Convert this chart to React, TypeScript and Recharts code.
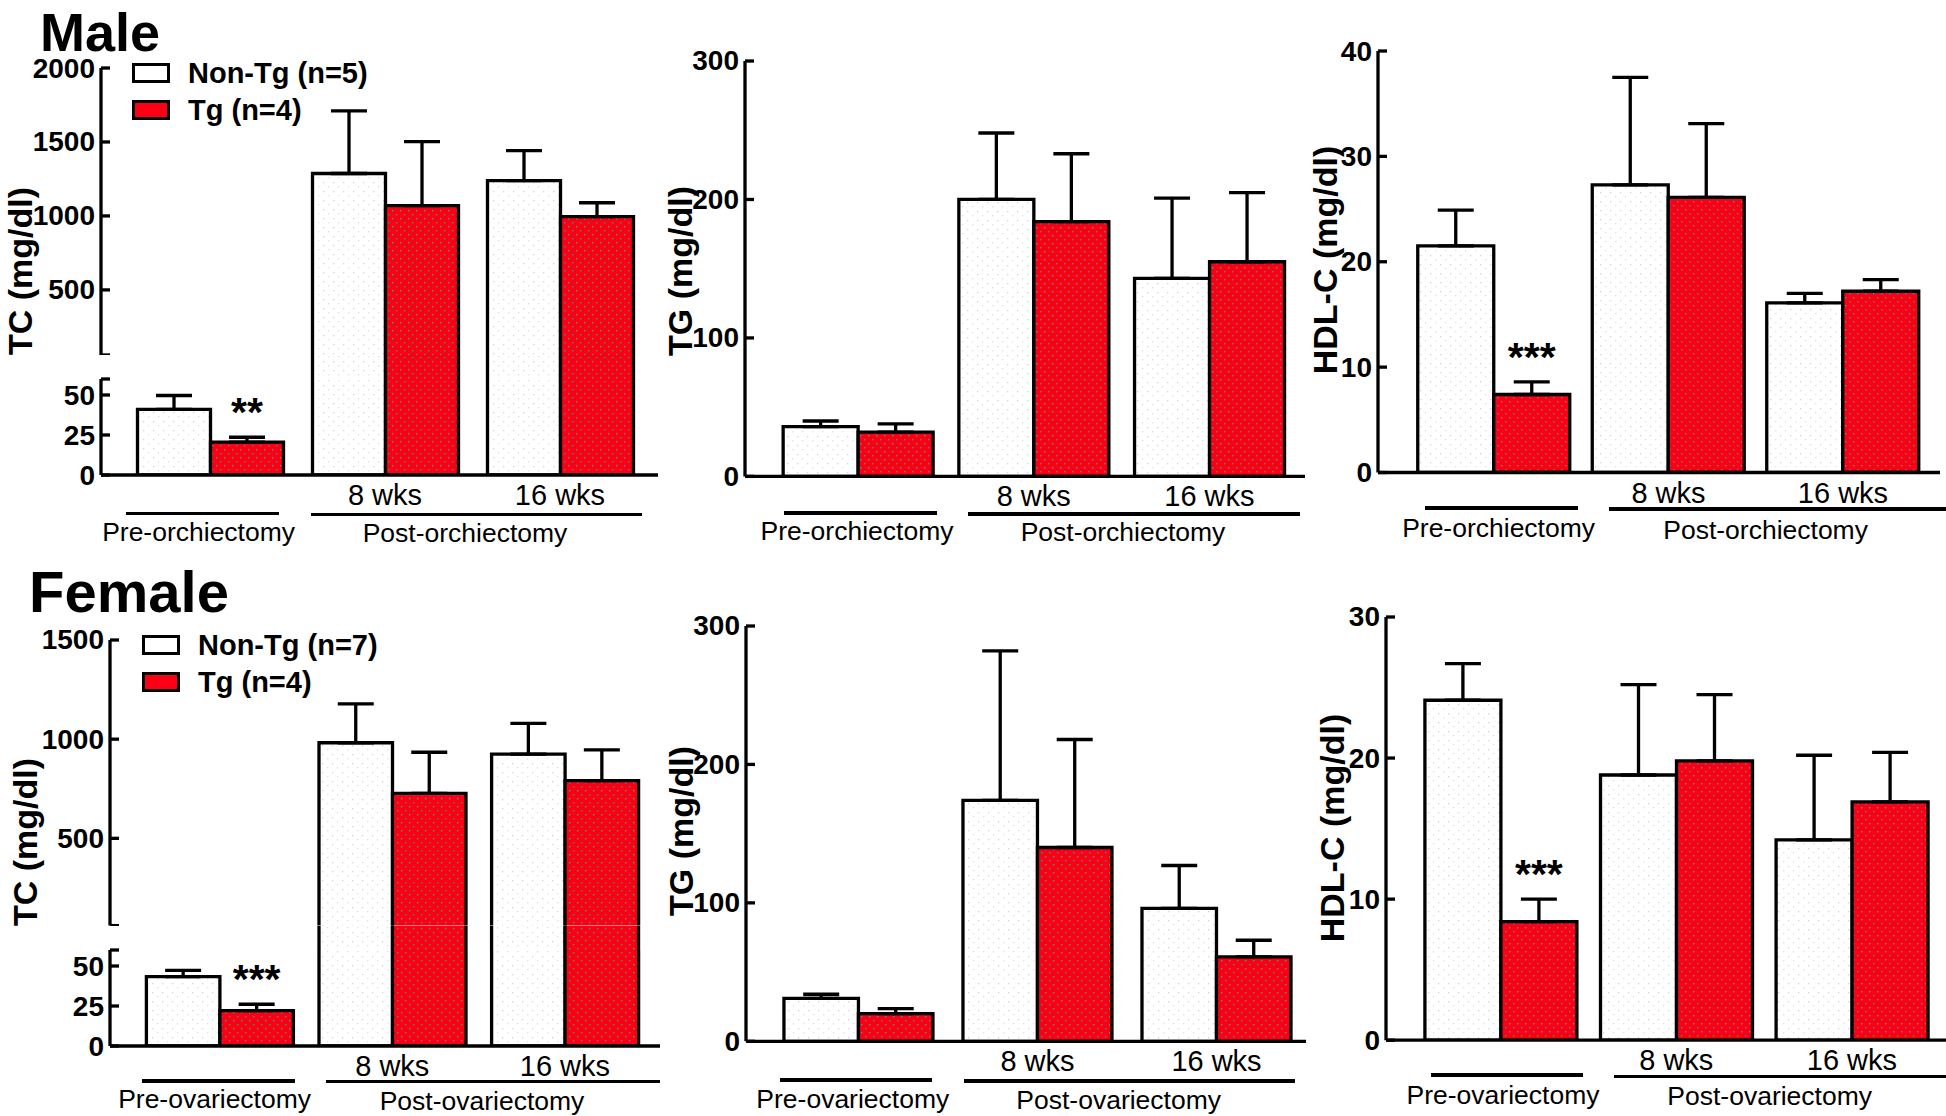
import React from 'react';
import { BarChart, Bar, XAxis, YAxis, ErrorBar, LabelList } from 'recharts';

const FONT = '"Liberation Sans", Arial, Helvetica, sans-serif';

// categories
const groups = ['Pre', '8 wks', '16 wks'];
const groupTicks = ['', '8 wks', '16 wks'];

// legends
const maleLegend = ['Non-Tg (n=5)', 'Tg (n=4)'];
const femaleLegend = ['Non-Tg (n=7)', 'Tg (n=4)'];

// Male TC (mg/dl)
const maleTcNonTg = [41, 1287, 1239];
const maleTcNonTgErr = [8.7, 423, 203];
const maleTcTg = [20.6, 1070, 995];
const maleTcTgErr = [3, 433, 94];
const maleTcSig = ['**', '', ''];

// Male TG
const maleTgNonTg = [36, 200, 143];
const maleTgNonTgErr = [4, 48, 58];
const maleTgTg = [32, 184, 155];
const maleTgTgErr = [6, 49, 50];

// Male HDL-C
const maleHdlNonTg = [21.5, 27.3, 16.1];
const maleHdlNonTgErr = [3.4, 10.2, 0.9];
const maleHdlTg = [7.4, 26.1, 17.2];
const maleHdlTgErr = [1.2, 7.0, 1.1];
const maleHdlSig = ['***', '', ''];

// Female TC
const femaleTcNonTg = [43.3, 982, 925];
const femaleTcNonTgErr = [4, 196, 155];
const femaleTcTg = [22.1, 727, 791];
const femaleTcTgErr = [4, 207, 155];
const femaleTcSig = ['***', '', ''];

// Female TG
const femaleTgNonTg = [31, 174, 96];
const femaleTgNonTgErr = [3, 108, 31];
const femaleTgTg = [20, 140, 61];
const femaleTgTgErr = [3.6, 78, 12];

// Female HDL-C
const femaleHdlNonTg = [24.1, 18.8, 14.2];
const femaleHdlNonTgErr = [2.6, 6.4, 6.0];
const femaleHdlTg = [8.4, 19.8, 16.9];
const femaleHdlTgErr = [1.6, 4.7, 3.5];
const femaleHdlSig = ['***', '', ''];

const noSig = ['', '', ''];

type Row = {
  group: string;
  nonTg: [number, number];
  tg: [number, number];
  nonTgErr: [number, number] | null;
  tgErr: [number, number] | null;
  sig: string;
};

function buildRows(a: number[], aErr: number[], b: number[], bErr: number[], sig: string[], lo = -Infinity, hi = Infinity): Row[] {
  const inRange = (v: number) => v > lo && v <= hi;
  return groups.map((g, i) => ({
    group: g,
    nonTg: [0, a[i]],
    tg: [0, b[i]],
    nonTgErr: inRange(a[i]) ? [0, aErr[i]] : null,
    tgErr: inRange(b[i]) ? [0, bErr[i]] : null,
    sig: sig[i],
  }));
}

const YW = 90;
const MT = 24;
const MR = 12;
const XH = 44;
const LW = 3.3;

type ChartProps = {
  id: string;
  rows: Row[];
  axisX: number;
  xEnd: number;
  yTop: number;
  yBottom: number;
  domain: [number, number];
  ticks?: number[];
  unlabeled?: number[];
  showX?: boolean;
  showY?: boolean;
  c0: number;
  period: number;
  barW: number;
  errors?: boolean;
  stars?: boolean;
};

function Chart(p: ChartProps) {
  const showY = p.showY !== false;
  const plotW = p.xEnd - p.axisX;
  const plotH = p.yBottom - p.yTop;
  const padL = Math.max(0, p.c0 - p.period / 2 - p.axisX);
  const padR = Math.max(0, plotW - padL - 3 * p.period);
  const xh = p.showX ? XH : 0;
  const unlabeled = p.unlabeled || [];

  const renderYTick = (t: any) => {
    const v = t.payload.value;
    return (
      <g>
        <line x1={YW} x2={YW + 9} y1={t.y} y2={t.y} stroke="#000" strokeWidth={LW} />
        {!unlabeled.includes(v) && (
          <text x={YW - 6} y={t.y} textAnchor="end" dominantBaseline="central" fontSize={28} fontWeight="bold" fontFamily={FONT} fill="#000">
            {v}
          </text>
        )}
      </g>
    );
  };

  const renderXTick = (t: any) => {
    const idx = groups.indexOf(t.payload.value);
    return (
      <text x={t.x} y={t.y + 20} textAnchor="middle" dominantBaseline="central" fontSize={29} fontFamily={FONT} fill="#000">
        {groupTicks[idx]}
      </text>
    );
  };

  const renderStar = (props: any) => {
    const vb = props.viewBox || props;
    const idx = props.index;
    const row = p.rows[idx];
    if (!row || !row.sig) return null;
    const v = row.tg[1];
    const e = row.tgErr ? row.tgErr[1] : 0;
    const unit = vb.height / v;
    const cy = vb.y - e * unit - 31;
    return (
      <text x={vb.x + vb.width / 2} y={cy + 20} textAnchor="middle" fontSize={41} fontWeight="bold" fontFamily={FONT} fill="#000">
        {row.sig}
      </text>
    );
  };

  return (
    <div style={{ position: 'absolute', left: p.axisX - YW, top: p.yTop - MT }}>
      <BarChart
        width={YW + plotW + MR}
        height={MT + plotH + xh}
        data={p.rows}
        margin={{ top: MT, right: MR, bottom: 0, left: showY ? 0 : YW }}
        barGap={0}
        barSize={p.barW}
      >
        <defs>
          <pattern id={`w-${p.id}`} patternUnits="userSpaceOnUse" width="10" height="9">
            <rect width="10" height="9" fill="#ffffff" />
            <rect x="2" y="3" width="1.3" height="1.3" fill="#d4d4d4" />
            <rect x="7" y="7" width="1.3" height="1.3" fill="#e0e0e0" />
          </pattern>
          <pattern id={`r-${p.id}`} patternUnits="userSpaceOnUse" width="8" height="8">
            <rect width="8" height="8" fill="#fb0014" />
            <rect x="1" y="2" width="1.4" height="1.4" fill="#3f8f88" />
            <rect x="5" y="6" width="1.4" height="1.4" fill="#4a9a92" />
          </pattern>
        </defs>
        <XAxis
          dataKey="group"
          hide={!p.showX}
          height={XH}
          padding={{ left: padL, right: padR }}
          axisLine={{ stroke: '#000', strokeWidth: LW }}
          tickLine={false}
          tickSize={0}
          tickMargin={0}
          interval={0}
          tick={renderXTick}
        />
        <YAxis
          type="number"
          hide={!showY}
          domain={p.domain}
          ticks={p.ticks}
          allowDataOverflow
          width={YW}
          interval={0}
          axisLine={{ stroke: '#000', strokeWidth: LW }}
          tickLine={false}
          tick={renderYTick}
        />
        <Bar dataKey="nonTg" fill={`url(#w-${p.id})`} stroke="#000" strokeWidth={LW} isAnimationActive={false}>
          {p.errors && <ErrorBar dataKey="nonTgErr" width={18} stroke="#000" strokeWidth={LW} direction="y" />}
        </Bar>
        <Bar dataKey="tg" fill={`url(#r-${p.id})`} stroke="#000" strokeWidth={LW} isAnimationActive={false}>
          {p.errors && <ErrorBar dataKey="tgErr" width={18} stroke="#000" strokeWidth={LW} direction="y" />}
          {p.stars && <LabelList dataKey="sig" content={renderStar} />}
        </Bar>
      </BarChart>
    </div>
  );
}

function YTitle({ text, x, y }: { text: string; x: number; y: number }) {
  return (
    <div
      style={{
        position: 'absolute', left: x, top: y, transform: 'translate(-50%, -50%) rotate(-90deg)',
        whiteSpace: 'nowrap', fontSize: 34, fontWeight: 'bold', lineHeight: '34px', fontFamily: FONT,
      }}
    >
      {text}
    </div>
  );
}

function GroupLabel({ text, x1, x2, lineY, cx, cy }: { text: string; x1: number; x2: number; lineY: number; cx: number; cy: number }) {
  return (
    <>
      <div style={{ position: 'absolute', left: x1, top: lineY - LW / 2, width: x2 - x1, height: LW, background: '#000' }} />
      <div
        style={{
          position: 'absolute', left: cx, top: cy, transform: 'translate(-50%, -50%)',
          whiteSpace: 'nowrap', fontSize: 26.5, lineHeight: 1, fontFamily: FONT,
        }}
      >
        {text}
      </div>
    </>
  );
}

function Legend({ x, top1, top2, labels }: { x: number; top1: number; top2: number; labels: string[] }) {
  const box = (top: number, bg: string) => (
    <div style={{ position: 'absolute', left: x, top, width: 38, height: 20, boxSizing: 'border-box', border: '3px solid #000', background: bg }} />
  );
  const label = (top: number, t: string) => (
    <div style={{ position: 'absolute', left: x + 56, top: top + 10 - 14.5, fontSize: 29, lineHeight: '29px', fontWeight: 'bold', whiteSpace: 'nowrap', fontFamily: FONT }}>
      {t}
    </div>
  );
  return (
    <>
      {box(top1, '#fff')}
      {label(top1, labels[0])}
      {box(top2, '#fb0014')}
      {label(top2, labels[1])}
    </>
  );
}

// content area of Liberation Sans: ascent 0.905em, descent 0.212em
function Title({ text, left, baseline, size }: { text: string; left: number; baseline: number; size: number }) {
  return (
    <div style={{ position: 'absolute', left, top: baseline - size * 0.905, fontSize: size, lineHeight: `${size * 1.117}px`, fontWeight: 'bold', fontFamily: FONT }}>
      {text}
    </div>
  );
}

export default function App() {
  // Male rows
  const mTcU = buildRows(maleTcNonTg, maleTcNonTgErr, maleTcTg, maleTcTgErr, noSig, 60, Infinity);
  const mTcL = buildRows(maleTcNonTg, maleTcNonTgErr, maleTcTg, maleTcTgErr, maleTcSig, -Infinity, 60);
  const mTg = buildRows(maleTgNonTg, maleTgNonTgErr, maleTgTg, maleTgTgErr, noSig);
  const mHdl = buildRows(maleHdlNonTg, maleHdlNonTgErr, maleHdlTg, maleHdlTgErr, maleHdlSig);
  // Female rows
  const fTcU = buildRows(femaleTcNonTg, femaleTcNonTgErr, femaleTcTg, femaleTcTgErr, noSig, 60, Infinity);
  const fTcL = buildRows(femaleTcNonTg, femaleTcNonTgErr, femaleTcTg, femaleTcTgErr, femaleTcSig, -Infinity, 60);
  const fTg = buildRows(femaleTgNonTg, femaleTgNonTgErr, femaleTgTg, femaleTgTgErr, noSig);
  const fHdl = buildRows(femaleHdlNonTg, femaleHdlNonTgErr, femaleHdlTg, femaleHdlTgErr, femaleHdlSig);

  const p1 = { axisX: 101, xEnd: 658, c0: 210, period: 175, barW: 73 };
  const p2 = { axisX: 745, xEnd: 1305, c0: 858, period: 175.7, barW: 75 };
  const p3 = { axisX: 1378, xEnd: 1940, c0: 1494, period: 174.5, barW: 76 };
  const p4 = { axisX: 110, xEnd: 660, c0: 219.7, period: 172.6, barW: 73.5 };
  const p5 = { axisX: 746, xEnd: 1306, c0: 858.7, period: 179.5, barW: 74.5 };
  const p6 = { axisX: 1386, xEnd: 1950, c0: 1500.7, period: 175.6, barW: 76 };

  return (
    <div style={{ position: 'absolute', left: 0, top: 0, width: 1946, height: 1116, overflow: 'hidden', background: '#fff', fontFamily: FONT, color: '#000' }}>
      {/* Male row */}
      <Title text="Male" left={40} baseline={51} size={54} />
      <YTitle text="TC (mg/dl)" x={20} y={271} />
      <Chart id="mtcu" rows={mTcU} {...p1} yTop={68} yBottom={355} domain={[60, 2000]} ticks={[60, 500, 1000, 1500, 2000]} unlabeled={[60]} errors />
      <Chart id="mtcg" rows={mTcU} {...p1} yTop={355} yBottom={379} domain={[60, 61]} showY={false} />
      <Chart id="mtcl" rows={mTcL} {...p1} yTop={379} yBottom={475} domain={[0, 60]} ticks={[0, 25, 50, 60]} unlabeled={[60]} showX errors stars />
      <Legend x={132} top1={63} top2={100} labels={maleLegend} />
      <GroupLabel text="Pre-orchiectomy" x1={126} x2={279} lineY={513.6} cx={198.6} cy={532} />
      <GroupLabel text="Post-orchiectomy" x1={311} x2={642} lineY={514.3} cx={465} cy={533} />

      <YTitle text="TG (mg/dl)" x={680} y={271} />
      <Chart id="mtg" rows={mTg} {...p2} yTop={61.4} yBottom={476.8} domain={[0, 300]} ticks={[0, 100, 200, 300]} showX errors />
      <GroupLabel text="Pre-orchiectomy" x1={784} x2={936.5} lineY={513} cx={857} cy={531} />
      <GroupLabel text="Post-orchiectomy" x1={968} x2={1300} lineY={514} cx={1123} cy={532} />

      <YTitle text="HDL-C (mg/dl)" x={1325} y={260} />
      <Chart id="mhdl" rows={mHdl} {...p3} yTop={51} yBottom={472.5} domain={[0, 40]} ticks={[0, 10, 20, 30, 40]} showX errors stars />
      <GroupLabel text="Pre-orchiectomy" x1={1425} x2={1578} lineY={508} cx={1498.6} cy={528} />
      <GroupLabel text="Post-orchiectomy" x1={1609} x2={1946} lineY={509} cx={1765.6} cy={529.6} />

      {/* Female row */}
      <Title text="Female" left={29} baseline={612} size={58} />
      <YTitle text="TC (mg/dl)" x={25} y={842} />
      <Chart id="ftcu" rows={fTcU} {...p4} yTop={640} yBottom={925.6} domain={[60, 1500]} ticks={[60, 500, 1000, 1500]} unlabeled={[60]} errors />
      <Chart id="ftcg" rows={fTcU} {...p4} yTop={925.6} yBottom={950} domain={[60, 61]} showY={false} />
      <Chart id="ftcl" rows={fTcL} {...p4} yTop={950} yBottom={1046} domain={[0, 60]} ticks={[0, 25, 50, 60]} unlabeled={[60]} showX errors stars />
      <Legend x={142} top1={635} top2={672} labels={femaleLegend} />
      <GroupLabel text="Pre-ovariectomy" x1={142} x2={294.6} lineY={1081} cx={214.6} cy={1099} />
      <GroupLabel text="Post-ovariectomy" x1={326} x2={660} lineY={1081.5} cx={482} cy={1100.6} />

      <YTitle text="TG (mg/dl)" x={681} y={831} />
      <Chart id="ftg" rows={fTg} {...p5} yTop={626.4} yBottom={1041.7} domain={[0, 300]} ticks={[0, 100, 200, 300]} showX errors />
      <GroupLabel text="Pre-ovariectomy" x1={780} x2={931.5} lineY={1080} cx={852.8} cy={1099} />
      <GroupLabel text="Post-ovariectomy" x1={964} x2={1294.7} lineY={1081} cx={1118.7} cy={1100} />

      <YTitle text="HDL-C (mg/dl)" x={1332} y={828} />
      <Chart id="fhdl" rows={fHdl} {...p6} yTop={617.4} yBottom={1040.6} domain={[0, 30]} ticks={[0, 10, 20, 30]} showX errors stars />
      <GroupLabel text="Pre-ovariectomy" x1={1431} x2={1583} lineY={1075} cx={1503} cy={1094.6} />
      <GroupLabel text="Post-ovariectomy" x1={1614} x2={1946} lineY={1076.7} cx={1769.7} cy={1096} />
    </div>
  );
}
